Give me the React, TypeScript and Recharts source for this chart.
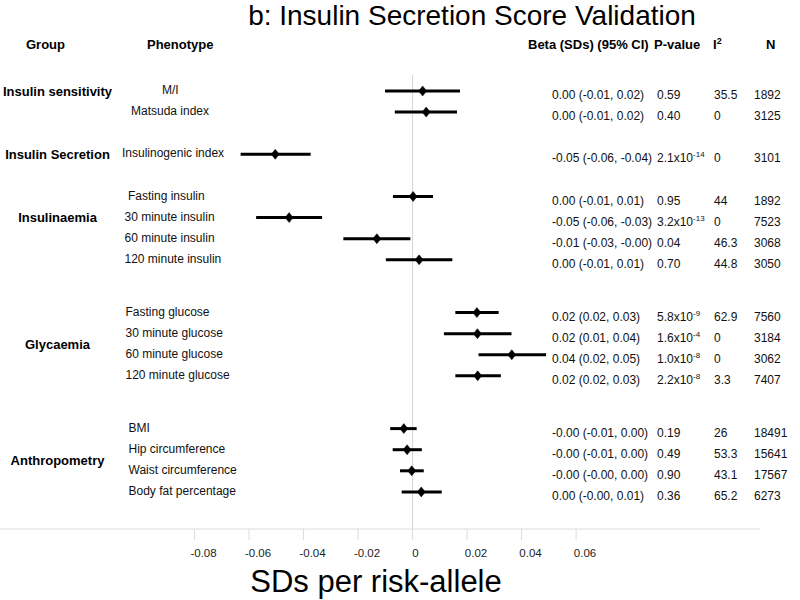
import React from 'react';
import { ScatterChart, Scatter, XAxis, YAxis, ErrorBar, ReferenceLine } from 'recharts';

// ---------------- data ----------------
const groups = ['Insulin sensitivity', 'Insulin Secretion', 'Insulinaemia', 'Glycaemia', 'Anthropometry'];
const groupSizes = [2, 1, 4, 4, 4];
const phenotypes = [
  'M/I', 'Matsuda index',
  'Insulinogenic  index',
  'Fasting insulin', '30 minute insulin', '60 minute insulin', '120 minute insulin',
  'Fasting glucose', '30 minute glucose', '60 minute glucose', '120 minute glucose',
  'BMI', 'Hip circumference', 'Waist circumference', 'Body fat percentage',
];
const beta = [0.0037, 0.0050, -0.0504, 0.0002, -0.0453, -0.0131, 0.0024, 0.0236, 0.0238, 0.0364, 0.0239, -0.0032, -0.0020, -0.0003, 0.0032];
const ciLow = [-0.0101, -0.0065, -0.0631, -0.0072, -0.0574, -0.0254, -0.0098, 0.0157, 0.0115, 0.0242, 0.0157, -0.0082, -0.0073, -0.0046, -0.0040];
const ciHigh = [0.0174, 0.0163, -0.0374, 0.0075, -0.0332, -0.0008, 0.0146, 0.0316, 0.0363, 0.0490, 0.0324, 0.0015, 0.0034, 0.0041, 0.0107];
const betaCI = [
  '0.00 (-0.01, 0.02)', '0.00 (-0.01, 0.02)',
  '-0.05 (-0.06, -0.04)',
  '0.00 (-0.01, 0.01)', '-0.05 (-0.06, -0.03)', '-0.01 (-0.03, -0.00)', '0.00 (-0.01, 0.01)',
  '0.02 (0.02, 0.03)', '0.02 (0.01, 0.04)', '0.04 (0.02, 0.05)', '0.02 (0.02, 0.03)',
  '-0.00 (-0.01, 0.00)', '-0.00 (-0.01, 0.00)', '-0.00 (-0.00, 0.00)', '0.00 (-0.00, 0.01)',
];
const pValues = [
  '0.59', '0.40',
  '2.1x10^-14',
  '0.95', '3.2x10^-13', '0.04', '0.70',
  '5.8x10^-9', '1.6x10^-4', '1.0x10^-8', '2.2x10^-8',
  '0.19', '0.49', '0.90', '0.36',
];
const i2 = ['35.5', '0', '0', '44', '0', '46.3', '44.8', '62.9', '0', '0', '3.3', '26', '53.3', '43.1', '65.2'];
const nSamples = ['1892', '3125', '3101', '1892', '7523', '3068', '3050', '7560', '3184', '3062', '7407', '18491', '15641', '17567', '6273'];
const xTicks = [-0.08, -0.06, -0.04, -0.02, 0, 0.02, 0.04, 0.06];
const headers = ['Group', 'Phenotype', 'Beta (SDs) (95% CI)', 'P-value', 'I', 'N'];
const title = 'b: Insulin Secretion Score Validation';
const xLabel = 'SDs per risk-allele';

// ---------------- layout ----------------
const W = 800;
const H = 600;
const FONT = '"Liberation Sans", Arial, Helvetica, sans-serif';
const X_DOMAIN: [number, number] = [-0.1514, 0.1275];
const Y_DOMAIN: [number, number] = [-0.758, 20.758];
const GAP_BEFORE_GROUP = [0, 2, 2, 2.5, 2.5];
const GROUP_LABEL_ROW = [0, 0, 1, 1.5, 1.5];
const PHENO_X = [162, 131, 122, 128, 124.5, 124.5, 124.5, 125.5, 125.5, 125.5, 125.5, 128.5, 128.5, 128.5, 128.5];
const COL_BETA = 552;
const COL_P = 657;
const COL_I2 = 714;
const COL_N = 754;
const FS = 12;

// row positions derived from the group structure
const rowPos: number[] = [];
const groupPos: number[] = [];
{
  let last = -1;
  groupSizes.forEach((size, g) => {
    const start = g === 0 ? 0 : last + GAP_BEFORE_GROUP[g];
    for (let k = 0; k < size; k++) rowPos.push(start + k);
    groupPos.push(start + GROUP_LABEL_ROW[g]);
    last = start + size - 1;
  });
}

const rows = phenotypes.map((name, i) => ({
  x: beta[i],
  y: rowPos[i],
  err: [beta[i] - ciLow[i], ciHigh[i] - beta[i]],
  idx: i,
}));
const tableRows = phenotypes.map((name, i) => ({ x: 0, y: rowPos[i], idx: i }));
const groupRows = groups.map((g, i) => ({ x: 0, y: groupPos[i], idx: i }));

const Diamond = (props: any) => {
  const { cx, cy } = props;
  if (cx == null || cy == null) return null;
  const hw = 4;
  const hh = 5;
  return (
    <polygon
      points={`${cx},${cy - hh} ${cx + hw},${cy} ${cx},${cy + hh} ${cx - hw},${cy}`}
      fill="#000"
      stroke="#000"
      strokeWidth={0.5}
    />
  );
};

const PText = ({ x, y, value }: { x: number; y: number; value: string }) => {
  const parts = value.split('^');
  if (parts.length === 1) {
    return (
      <text x={x} y={y} fontSize={FS} fill="#111" fontFamily={FONT}>
        {value}
      </text>
    );
  }
  return (
    <text x={x} y={y} fontSize={FS} fill="#111" fontFamily={FONT}>
      {parts[0]}
      <tspan fontSize={8} dy={-5}>{parts[1]}</tspan>
    </text>
  );
};

const TableRow = (props: any) => {
  const { cy, payload } = props;
  if (cy == null) return null;
  const i = payload.idx;
  const base = cy + 0.35 * FS;
  const vb = base + 4;
  return (
    <g>
      <text x={PHENO_X[i]} y={base - 1} fontSize={FS} fill="#111" fontFamily={FONT}>
        {phenotypes[i]}
      </text>
      <text x={COL_BETA} y={vb} fontSize={FS} fill="#111" fontFamily={FONT}>
        {betaCI[i]}
      </text>
      <PText x={COL_P} y={vb} value={pValues[i]} />
      <text x={COL_I2} y={vb} fontSize={FS} fill="#111" fontFamily={FONT}>
        {i2[i]}
      </text>
      <text x={COL_N} y={vb} fontSize={FS} fill="#111" fontFamily={FONT}>
        {nSamples[i]}
      </text>
    </g>
  );
};

const GroupLabel = (props: any) => {
  const { cy, payload } = props;
  if (cy == null) return null;
  return (
    <text
      x={57.5}
      y={cy + 0.35 * 13}
      fontSize={13}
      fontWeight="bold"
      fill="#000"
      textAnchor="middle"
      fontFamily={FONT}
    >
      {groups[payload.idx]}
    </text>
  );
};

const XTick = (props: any) => {
  const { x, y, payload } = props;
  const v = payload.value;
  const label = v === 0 ? '0' : String(v);
  return (
    <text
      x={x + (v === 0 ? 3 : 9)}
      y={y}
      dy="0.71em"
      textAnchor="middle"
      fontSize={11.5}
      fill="#222"
      fontFamily={FONT}
    >
      {label}
    </text>
  );
};

export default function App() {
  return (
    <div style={{ position: 'absolute', left: 0, top: 0, width: W, height: H, background: '#fff' }}>
      <ScatterChart width={W} height={H} margin={{ top: 75, right: 40, bottom: 0, left: 0 }}>
        <XAxis
          xAxisId="top"
          orientation="top"
          type="number"
          dataKey="x"
          domain={X_DOMAIN}
          height={0}
          tick={false}
          tickLine={false}
          axisLine={{ stroke: '#efefef' }}
        />
        <XAxis
          type="number"
          dataKey="x"
          domain={X_DOMAIN}
          ticks={xTicks}
          height={71}
          tickSize={11}
          tickMargin={9}
          tick={<XTick />}
          axisLine={{ stroke: '#dcdcdc' }}
          tickLine={{ stroke: '#dcdcdc' }}
          label={{
            value: xLabel,
            position: 'insideBottom',
            offset: 8,
            fontSize: 31,
            fill: '#000',
            fontFamily: FONT,
            dx: -4,
          }}
        />
        <YAxis type="number" dataKey="y" domain={Y_DOMAIN} reversed hide />
        <ReferenceLine x={0} stroke="#d4d4d4" strokeWidth={1} />
        <Scatter data={groupRows} isAnimationActive={false} shape={<GroupLabel />} />
        <Scatter data={tableRows} isAnimationActive={false} shape={<TableRow />} />
        <Scatter data={rows} isAnimationActive={false} shape={<Diamond />}>
          <ErrorBar dataKey="err" direction="x" width={0} stroke="#000" strokeWidth={3} />
        </Scatter>
      </ScatterChart>
      <svg
        width={W}
        height={75}
        style={{ position: 'absolute', left: 0, top: 0, pointerEvents: 'none' }}
      >
        <text x={472} y={25} fontSize={28} textAnchor="middle" fill="#000" fontFamily={FONT}>
          {title}
        </text>
        <g fontSize={13} fontWeight="bold" fill="#000" fontFamily={FONT}>
          <text x={26} y={48.5}>{headers[0]}</text>
          <text x={147} y={48.5}>{headers[1]}</text>
          <text x={528} y={48.5}>{headers[2]}</text>
          <text x={654} y={48.5}>{headers[3]}</text>
          <text x={713} y={48.5}>
            {headers[4]}
            <tspan fontSize={9} dy={-5}>2</tspan>
          </text>
          <text x={766} y={48.5}>{headers[5]}</text>
        </g>
      </svg>
    </div>
  );
}
